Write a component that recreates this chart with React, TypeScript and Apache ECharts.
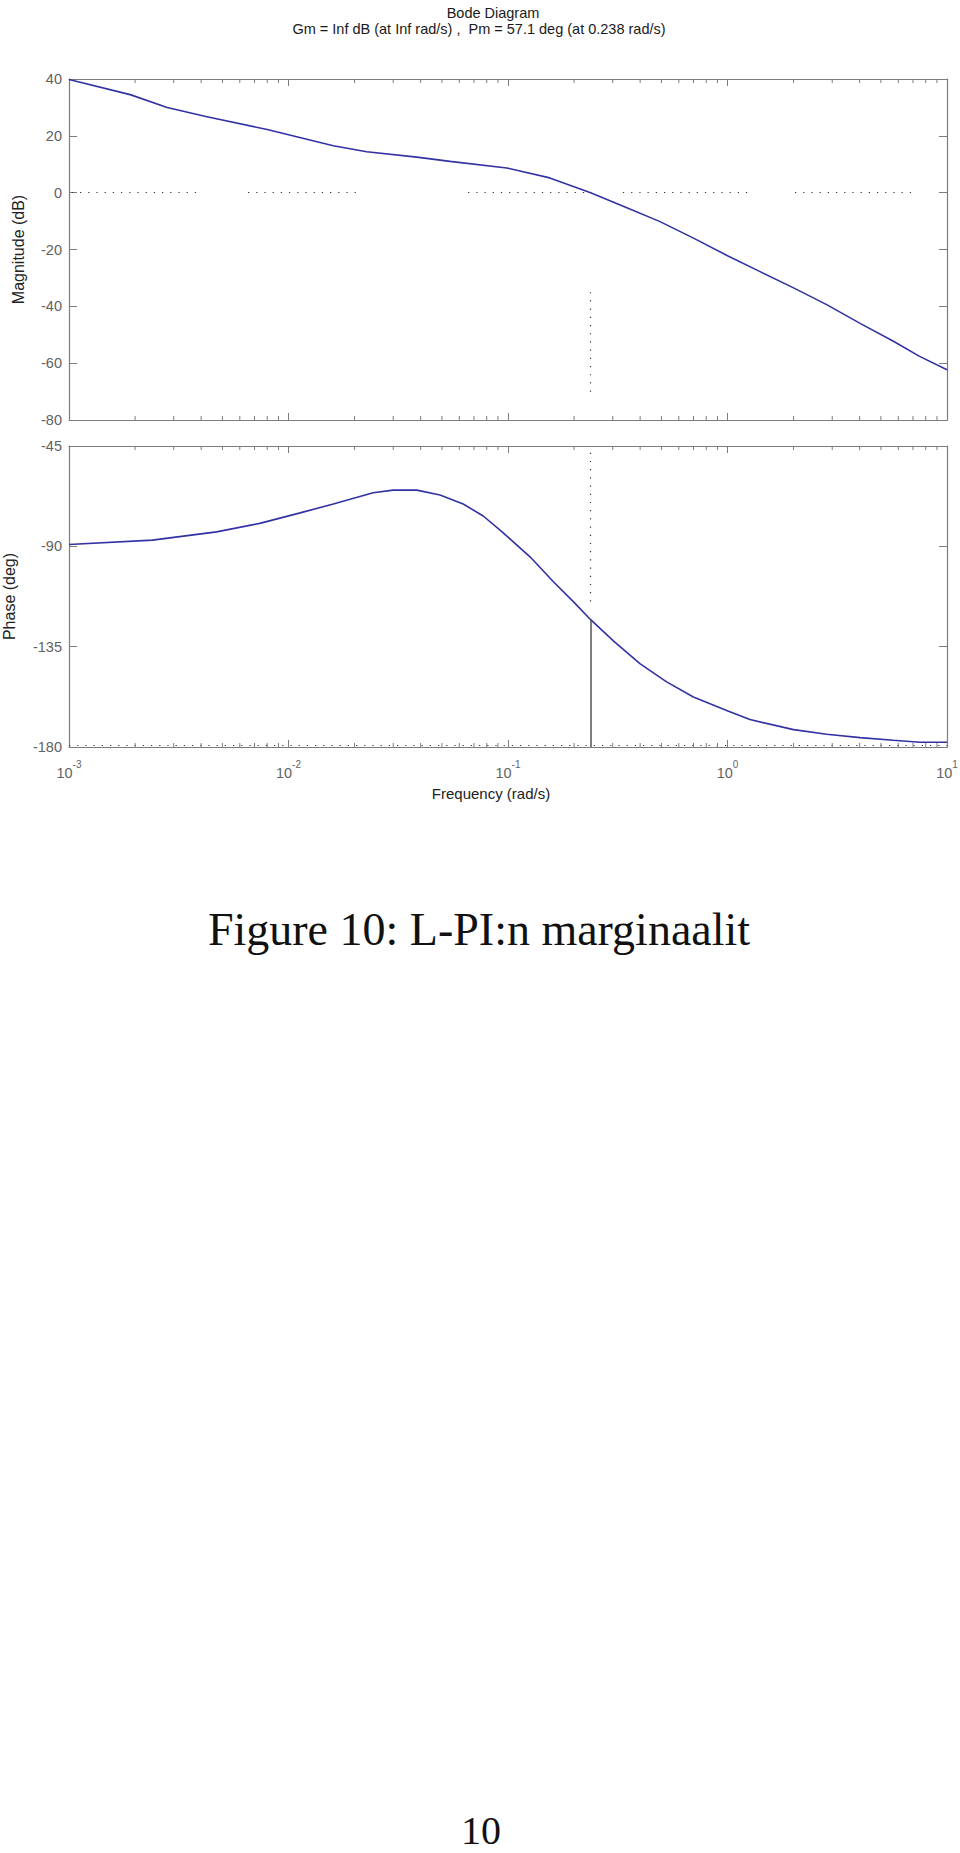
import React, { useEffect, useRef } from "react";
import * as echarts from "echarts";

// ---- data ----
const magFreq = [0.001, 0.0019, 0.0028, 0.0042, 0.008, 0.01, 0.016, 0.0227, 0.0384, 0.0544, 0.0987, 0.155, 0.238, 0.35, 0.49, 0.7, 1.0, 1.4, 2.0, 2.83, 4.0, 5.7, 7.5, 10];
const magDb = [39.8, 34.5, 30.0, 26.8, 22.2, 20.4, 16.5, 14.4, 12.5, 11.0, 8.7, 5.2, 0.0, -5.4, -10.1, -16.0, -22.2, -27.7, -33.5, -39.4, -45.9, -52.3, -57.6, -62.3];

const phaseFreq = [0.001, 0.0024, 0.0047, 0.0074, 0.0113, 0.016, 0.0243, 0.03, 0.0384, 0.049, 0.0625, 0.0771, 0.092, 0.126, 0.161, 0.199, 0.238, 0.302, 0.399, 0.528, 0.699, 0.991, 1.265, 2.0, 2.83, 4.02, 5.69, 7.53, 10];
const phaseDeg = [-89.2, -87.2, -83.5, -79.7, -75.0, -71.0, -66.0, -64.8, -64.8, -67.0, -71.0, -76.4, -82.7, -94.7, -105.9, -114.9, -122.9, -132.4, -142.6, -150.8, -157.6, -163.6, -167.7, -172.2, -174.3, -175.8, -177.0, -177.9, -177.9];

const minorFreqs = [
  0.002, 0.003, 0.004, 0.005, 0.006, 0.007, 0.008, 0.009,
  0.02, 0.03, 0.04, 0.05, 0.06, 0.07, 0.08, 0.09,
  0.2, 0.3, 0.4, 0.5, 0.6, 0.7, 0.8, 0.9,
  2, 3, 4, 5, 6, 7, 8, 9,
];

const magTicks = [-80, -60, -40, -20, 0, 20, 40];
const phaseTicks = [-180, -135, -90, -45];
const freqRange = [0.001, 10];

const zeroDbSegments = [
  [0.00103, 0.00396],
  [0.00654, 0.0216],
  [0.0658, 0.2363],
  [0.334, 1.306],
  [2.03, 7.3],
];
const crossoverFreq = 0.238;
const phaseAtCrossover = -122.9;
const magMarkerRange = [-35, -71];
const phaseDotRange = [-48, -115];

const titleText = "Bode Diagram";
const subtitleText = "Gm = Inf dB (at Inf rad/s) ,  Pm = 57.1 deg (at 0.238 rad/s)";
const captionText = "Figure 10: L-PI:n marginaalit";
const pageNumber = "10";

// ---- styles ----
const FRAME = "#7c7c7c";
const LABEL = "#626262";
const CURVE = "#3232a4";
const SANS = "'Liberation Sans', Arial, Helvetica, sans-serif";
const SERIF = "'Liberation Serif', 'Times New Roman', serif";

const G0 = { left: 69, top: 79, width: 878, height: 341 };
const G1 = { left: 69, top: 446, width: 878, height: 301 };

function xAxisCfg(gridIndex: number, position: string, withLabels: boolean) {
  const cfg: any = {
    type: "log",
    logBase: 10,
    gridIndex,
    position,
    min: freqRange[0],
    max: freqRange[1],
    axisLine: { show: true, onZero: false, lineStyle: { color: FRAME, width: 1.2 } },
    axisTick: { show: true, inside: true, length: 7, lineStyle: { color: FRAME, width: 1 } },
    splitLine: { show: false },
    minorTick: { show: false },
    axisLabel: { show: false },
  };
  if (withLabels) {
    cfg.axisLabel = {
      show: true,
      margin: 12,
      hideOverlap: false,
      formatter: (v: number) => `{b|10}{s|${Math.round(Math.log10(v))}}`,
      rich: {
        b: { fontSize: 14.5, fontFamily: SANS, color: LABEL, lineHeight: 28 },
        s: { fontSize: 10, fontFamily: SANS, color: LABEL, lineHeight: 10, verticalAlign: "top" },
      },
    };
    cfg.name = "Frequency (rad/s)";
    cfg.nameLocation = "middle";
    cfg.nameGap = 39;
    cfg.nameTextStyle = { fontSize: 15, fontFamily: SANS, color: "#222", padding: [0, 34, 0, 0] };
  }
  return cfg;
}

function yAxisCfg(gridIndex: number, position: string, ticks: number[], name?: string, nameGap?: number) {
  const cfg: any = {
    type: "value",
    gridIndex,
    position,
    min: ticks[0],
    max: ticks[ticks.length - 1],
    interval: ticks[1] - ticks[0],
    axisLine: { show: true, onZero: false, lineStyle: { color: FRAME, width: 1.2 } },
    axisTick: { show: true, inside: true, length: 8, lineStyle: { color: FRAME, width: 1 } },
    splitLine: { show: false },
    axisLabel: { show: false },
  };
  if (name) {
    cfg.axisLabel = { show: true, margin: 7, fontSize: 14.5, fontFamily: SANS, color: LABEL };
    cfg.name = name;
    cfg.nameLocation = "middle";
    cfg.nameGap = nameGap;
    cfg.nameTextStyle = { fontSize: 16, fontFamily: SANS, color: "#222" };
  }
  return cfg;
}

function minorTickSeries(xi: number, yi: number, yMin: number, yMax: number) {
  return {
    type: "custom",
    xAxisIndex: xi,
    yAxisIndex: yi,
    silent: true,
    clip: false,
    z: 5,
    data: minorFreqs.map((f) => [f, yMin]),
    encode: { x: 0, y: 1 },
    renderItem: (_params: any, api: any) => {
      const f = api.value(0);
      const b = api.coord([f, yMin]);
      const t = api.coord([f, yMax]);
      const st = { stroke: FRAME, lineWidth: 1 };
      return {
        type: "group",
        children: [
          { type: "line", shape: { x1: b[0], y1: b[1], x2: b[0], y2: b[1] - 4 }, style: st },
          { type: "line", shape: { x1: t[0], y1: t[1], x2: t[0], y2: t[1] + 4 }, style: st },
        ],
      };
    },
  };
}

const dotted = { type: [1.2, 7], color: "#333", width: 1.2 };

export default function App() {
  const ref = useRef<HTMLDivElement>(null);
  useEffect(() => {
    if (!ref.current) return;
    const chart = echarts.init(ref.current, undefined, { renderer: "svg" });
    const magLineData: any[] = zeroDbSegments.map(([a, b]) => [{ coord: [a, 0] }, { coord: [b, 0] }]);
    magLineData.push([{ coord: [crossoverFreq, magMarkerRange[0]] }, { coord: [crossoverFreq, magMarkerRange[1]] }]);

    const option: any = {
      animation: false,
      backgroundColor: "#ffffff",
      textStyle: { fontFamily: SANS },
      grid: [
        { ...G0, containLabel: false, outerBoundsMode: "none" },
        { ...G1, containLabel: false, outerBoundsMode: "none" },
      ],
      xAxis: [
        xAxisCfg(0, "bottom", false),
        xAxisCfg(0, "top", false),
        xAxisCfg(1, "bottom", true),
        xAxisCfg(1, "top", false),
      ],
      yAxis: [
        yAxisCfg(0, "left", magTicks, "Magnitude (dB)", 43),
        yAxisCfg(0, "right", magTicks),
        yAxisCfg(1, "left", phaseTicks, "Phase (deg)", 52),
        yAxisCfg(1, "right", phaseTicks),
      ],
      series: [
        {
          type: "line",
          xAxisIndex: 0,
          yAxisIndex: 0,
          data: magFreq.map((f, i) => [f, magDb[i]]),
          showSymbol: false,
          symbol: "none",
          lineStyle: { color: CURVE, width: 1.6 },
          z: 3,
          markLine: {
            silent: true,
            symbol: "none",
            label: { show: false },
            lineStyle: dotted,
            data: magLineData,
          },
        },
        {
          type: "line",
          xAxisIndex: 2,
          yAxisIndex: 2,
          data: phaseFreq.map((f, i) => [f, phaseDeg[i]]),
          showSymbol: false,
          symbol: "none",
          lineStyle: { color: CURVE, width: 1.6 },
          z: 3,
          markLine: {
            silent: true,
            symbol: "none",
            label: { show: false },
            lineStyle: dotted,
            data: [
              [{ coord: [crossoverFreq, phaseDotRange[0]] }, { coord: [crossoverFreq, phaseDotRange[1]] }],
              [
                { coord: [crossoverFreq, phaseAtCrossover], lineStyle: { type: "solid", color: "#555", width: 1.5 } },
                { coord: [crossoverFreq, phaseTicks[0]] },
              ],
              [{ coord: [freqRange[0], phaseTicks[0] + 1] }, { coord: [freqRange[1], phaseTicks[0] + 1] }],
            ],
          },
        },
        minorTickSeries(0, 0, magTicks[0], magTicks[magTicks.length - 1]),
        minorTickSeries(2, 2, phaseTicks[0], phaseTicks[phaseTicks.length - 1]),
      ],
      graphic: [
        {
          type: "text",
          x: 493,
          y: 13,
          style: { text: titleText, font: `14.5px ${SANS}`, fill: "#1a1a1a", align: "center", verticalAlign: "middle", textAlign: "center", textVerticalAlign: "middle" },
        },
        {
          type: "text",
          x: 479,
          y: 28.5,
          style: { text: subtitleText, font: `14.5px ${SANS}`, fill: "#1a1a1a", align: "center", verticalAlign: "middle", textAlign: "center", textVerticalAlign: "middle" },
        },
        {
          type: "text",
          x: 479,
          y: 929,
          style: { text: captionText, font: `46px ${SERIF}`, fill: "#111", align: "center", verticalAlign: "middle", textAlign: "center", textVerticalAlign: "middle" },
        },
        {
          type: "text",
          x: 481,
          y: 1830,
          style: { text: pageNumber, font: `40px ${SERIF}`, fill: "#111", align: "center", verticalAlign: "middle", textAlign: "center", textVerticalAlign: "middle" },
        },
      ],
    };
    chart.setOption(option);
    return () => chart.dispose();
  }, []);

  return (
    <div style={{ position: "absolute", left: 0, top: 0, width: 960, height: 1853, background: "#fff" }}>
      <div ref={ref} style={{ width: 960, height: 1853 }} />
    </div>
  );
}
